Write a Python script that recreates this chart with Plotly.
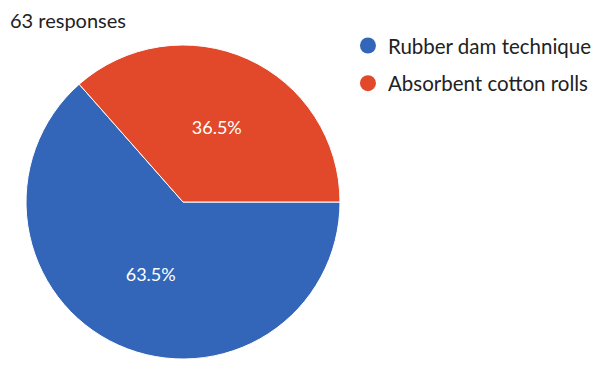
import plotly.graph_objects as go

labels = ["Rubber dam technique", "Absorbent cotton rolls"]
values = [63.5, 36.5]
colors = ["#3366B8", "#E2492A"]
title_text = "63 responses"

W, H = 602, 367
cx, cy, r = 183, 202, 157

fig = go.Figure()
fig.add_trace(go.Pie(
    labels=labels, values=values, sort=False, direction="clockwise", rotation=90,
    marker=dict(colors=colors, line=dict(color="white", width=1)),
    textinfo="percent", texttemplate="%{percent:.1%}",
    textfont=dict(color="white", size=18, family="Lato"),
    insidetextorientation="horizontal",
    showlegend=False, hoverinfo="label+percent",
    domain=dict(x=[(cx - r) / W, (cx + r) / W], y=[1 - (cy + r) / H, 1 - (cy - r) / H]),
))
for i, (lab, col) in enumerate(zip(labels, colors)):
    fig.add_trace(go.Scatter(x=[None], y=[None], mode="markers", name=lab,
                             legendgroup=f"g{i}",
                             marker=dict(color=col, size=22, symbol="circle")))

fig.update_layout(
    width=W, height=H, margin=dict(l=0, r=0, t=0, b=0),
    paper_bgcolor="white", plot_bgcolor="white",
    xaxis=dict(visible=False), yaxis=dict(visible=False),
    legend=dict(x=0.578, y=0.93, xanchor="left", yanchor="top",
                font=dict(size=20.5, family="Lato", color="#222222"),
                itemsizing="trace", tracegroupgap=8, bgcolor="rgba(0,0,0,0)"),
    annotations=[dict(text=title_text, x=8 / W, y=1 - 20 / H, xref="paper", yref="paper",
                      xanchor="left", yanchor="middle", showarrow=False,
                      font=dict(size=20, family="Lato", color="#222222"))],
)
fig.write_html("out.html")
